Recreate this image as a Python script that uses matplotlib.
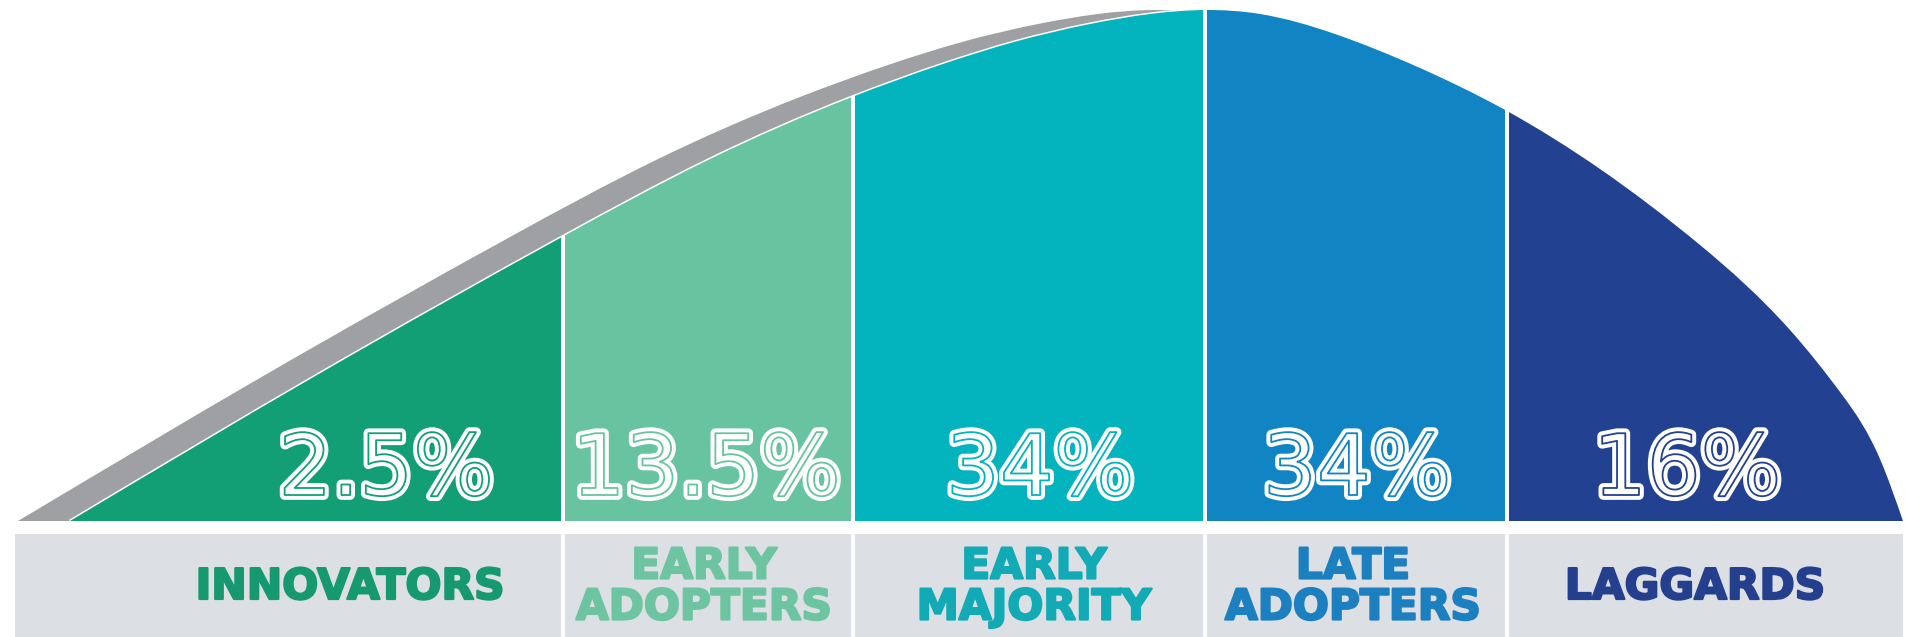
import numpy as np
import matplotlib.pyplot as plt
import matplotlib.patheffects as pe
from matplotlib.path import Path
from matplotlib.patches import PathPatch
from matplotlib.transforms import Affine2D

# adopter groups and their share of the population
groups = ['INNOVATORS', 'EARLY\nADOPTERS', 'EARLY\nMAJORITY', 'LATE\nADOPTERS', 'LAGGARDS']
shares = [2.5, 13.5, 34, 34, 16]
share_labels = ['%g%%' % s for s in shares]

# outline of the bell curve (pixels, y pointing down)
curve_x = [70, 317, 562, 706, 852, 940, 1014, 1090, 1150, 1205,
           1260, 1335, 1420, 1507, 1600, 1700, 1790, 1843, 1880, 1903]
curve_y = [521, 375, 237, 161, 97, 65, 42, 24, 14, 10,
           14, 34, 68, 111, 169, 245, 330, 396, 459, 521]

# layout
edges = [13, 563, 853, 1205, 1507, 1905]
base = 521
band_top = 534
gap = 4
pct_x = [386, 706, 1040, 1357, 1687]
lab_x = [350, 704, 1034, 1353, 1695]

fills = ['#129f76', '#68c4a0', '#03b3bd', '#1184c3', '#224190']
text_cols = ['#16996f', '#6cc4a1', '#12aab5', '#1c80c0', '#243f8e']
shadow = '#9fa0a4'
band = '#dcdfe3'


def bell_path(xs, ys, y0):
    # cubic spline through the knots, drawn as bezier segments
    xs = np.asarray(xs, float)
    ys = np.asarray(ys, float)
    n = len(xs)
    h = np.diff(xs)
    d = np.diff(ys) / h
    A = np.zeros((n, n))
    r = np.zeros(n)
    A[0, 0], A[0, 1], r[0] = 2, 1, 3 * d[0]
    A[-1, -2], A[-1, -1], r[-1] = 1, 2, 3 * d[-1]
    for i in range(1, n - 1):
        A[i, i - 1] = h[i]
        A[i, i] = 2 * (h[i - 1] + h[i])
        A[i, i + 1] = h[i - 1]
        r[i] = 3 * (h[i] * d[i - 1] + h[i - 1] * d[i])
    m = np.linalg.solve(A, r)
    verts = [(xs[0], y0)]
    codes = [Path.MOVETO]
    for i in range(n - 1):
        k = h[i] / 3
        verts += [(xs[i] + k, ys[i] + m[i] * k),
                  (xs[i + 1] - k, ys[i + 1] - m[i + 1] * k),
                  (xs[i + 1], ys[i + 1])]
        codes += [Path.CURVE4] * 3
    verts.append((xs[0], y0))
    codes.append(Path.CLOSEPOLY)
    return Path(verts, codes)


fig = plt.figure(figsize=(19.05, 6.37), dpi=100)
ax = fig.add_axes([0, 0, 1, 1])
ax.set_xlim(0, 1905)
ax.set_ylim(637, 0)
ax.axis('off')

path = bell_path(curve_x, curve_y, base)

# grey shadow behind the curve, then a white copy so the gaps stay white
ax.add_patch(PathPatch(path, facecolor=shadow, edgecolor='none',
                       transform=Affine2D().translate(-52, 0) + ax.transData, zorder=1))
outline = PathPatch(path, facecolor='white', edgecolor='white', lw=2.2, zorder=1.5)
ax.add_patch(outline)

for i in range(len(groups)):
    left = edges[i] + gap / 2
    w = edges[i + 1] - edges[i] - gap
    bars = ax.bar(left, base, width=w, bottom=0, align='edge', color=fills[i], zorder=2)
    for b in bars:
        b.set_clip_path(outline)
    # label band below
    ax.bar(left, 637 - band_top, width=w, bottom=band_top, align='edge', color=band, zorder=2)

    ax.text(pct_x[i], 495, share_labels[i], ha='center', va='baseline',
            fontsize=61, color='white', family='DejaVu Sans', zorder=4,
            path_effects=[pe.Stroke(linewidth=7, foreground='white'),
                          pe.Stroke(linewidth=1.3, foreground=fills[i])])

    ax.text(lab_x[i], 587, groups[i], ha='center', va='center', multialignment='center',
            fontsize=30.5, fontweight='bold', color=text_cols[i], linespacing=0.97,
            family='DejaVu Sans', zorder=4,
            path_effects=[pe.withStroke(linewidth=1.6, foreground=text_cols[i])])

fig.savefig('out.png', dpi=100)
